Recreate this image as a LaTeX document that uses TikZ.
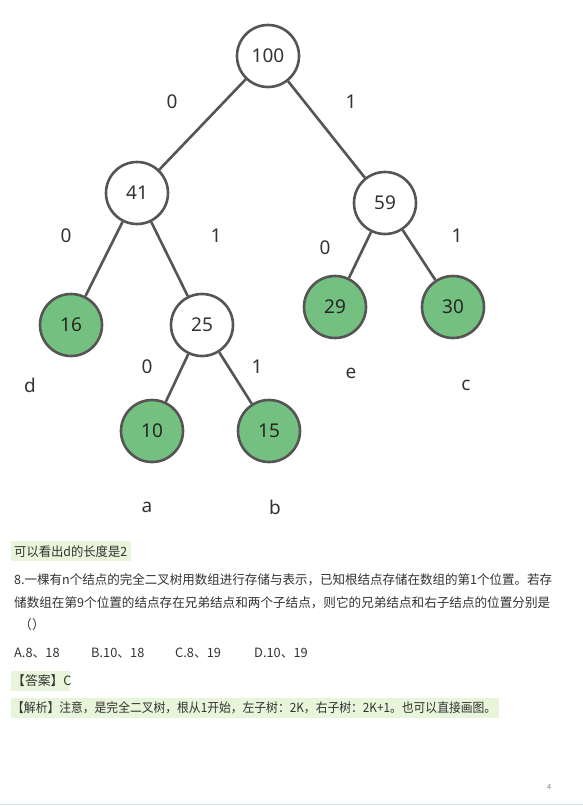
\documentclass[tikz,border=0pt]{standalone}
\usepackage{fontspec}
\setmainfont{Noto Sans}
\newfontfamily\cjk{Noto Sans CJK SC}
\definecolor{edgec}{HTML}{555555}
\definecolor{leafg}{HTML}{74C080}
\definecolor{hl}{HTML}{E8F5DA}
\definecolor{txt}{HTML}{333333}
\definecolor{rulec}{HTML}{D5E2E2}
\newcommand{\fitw}[2]{\resizebox{#1}{\height}{#2}}
\tikzset{
  tn/.style={circle, draw=edgec, line width=2.6pt, minimum size=62pt, inner sep=0pt, fill=white, text=txt, font=\fontsize{19}{19}\selectfont},
  leaf/.style={tn, fill=leafg, text=black!85},
  lbl/.style={text=txt, font=\fontsize{19}{19}\selectfont, inner sep=0pt},
  edge/.style={draw=edgec, line width=2.6pt},
  body/.style={text=txt, anchor=west, inner sep=0pt, font=\cjk\fontsize{12.8}{13}\selectfont},
}
\begin{document}
\begin{tikzpicture}[x=1pt,y=-1pt]
\useasboundingbox (0,0) rectangle (583,806);
\fill[white] (0,0) rectangle (583,806);
% tree nodes
\node[tn] (n100) at (268,56) {100};
\node[tn] (n41) at (137,193) {41};
\node[tn] (n59) at (385,203) {59};
\node[leaf] (n16) at (71,325) {16};
\node[tn] (n25) at (202,325) {25};
\node[leaf] (n29) at (335,307) {29};
\node[leaf] (n30) at (453,307) {30};
\node[leaf] (n10) at (152,431) {10};
\node[leaf] (n15) at (269,431) {15};
% edges
\draw[edge] (n100) -- (n41);
\draw[edge] (n100) -- (n59);
\draw[edge] (n41) -- (n16);
\draw[edge] (n41) -- (n25);
\draw[edge] (n59) -- (n29);
\draw[edge] (n59) -- (n30);
\draw[edge] (n25) -- (n10);
\draw[edge] (n25) -- (n15);
% edge labels
\node[lbl] (l1) at (172,102) {0};
\node[lbl] (l2) at (351,102) {1};
\node[lbl] (l3) at (66,236) {0};
\node[lbl] (l4) at (216,236) {1};
\node[lbl] (l5) at (325,248) {0};
\node[lbl] (l6) at (457,236) {1};
\node[lbl] (l7) at (147,367) {0};
\node[lbl] (l8) at (257,367) {1};
% leaf names
\node[lbl] (ld) at (30,385) {d};
\node[lbl] (le) at (351,373) {e};
\node[lbl] (lc) at (466,385) {c};
\node[lbl] (la) at (147,507) {a};
\node[lbl] (lb) at (275,507) {b};
% text block
\fill[hl] (11,541) rectangle (131,561);
\fill[hl] (11,671) rectangle (70,691);
\fill[hl] (11,698) rectangle (499,718);
\node[body] (t1) at (14,552) {\fitw{113pt}{可以看出d的长度是2}};
\node[body] (t2) at (14,580) {\fitw{538pt}{8.一棵有n个结点的完全二叉树用数组进行存储与表示，已知根结点存储在数组的第1个位置。若存}};
\node[body] (t3) at (14,603) {\fitw{536pt}{储数组在第9个位置的结点存在兄弟结点和两个子结点，则它的兄弟结点和右子结点的位置分别是}};
\node[body] (t4) at (19,625) {（）};
\node[body] (oa) at (14,653) {A.8、18};
\node[body] (ob) at (91,653) {B.10、18};
\node[body] (oc) at (175,653) {C.8、19};
\node[body] (od) at (254,653) {D.10、19};
\node[body] (t6) at (12,681) {【答案】C};
\node[body] (t7) at (12,708) {\fitw{484pt}{【解析】注意，是完全二叉树，根从1开始，左子树：2K，右子树：2K+1。也可以直接画图。}};
\node[text=gray, font=\fontsize{7}{7}\selectfont, inner sep=0pt] (pg) at (549,787) {4};
\draw[rulec, line width=1pt] (0,804) -- (583,804);
\end{tikzpicture}
\end{document}
